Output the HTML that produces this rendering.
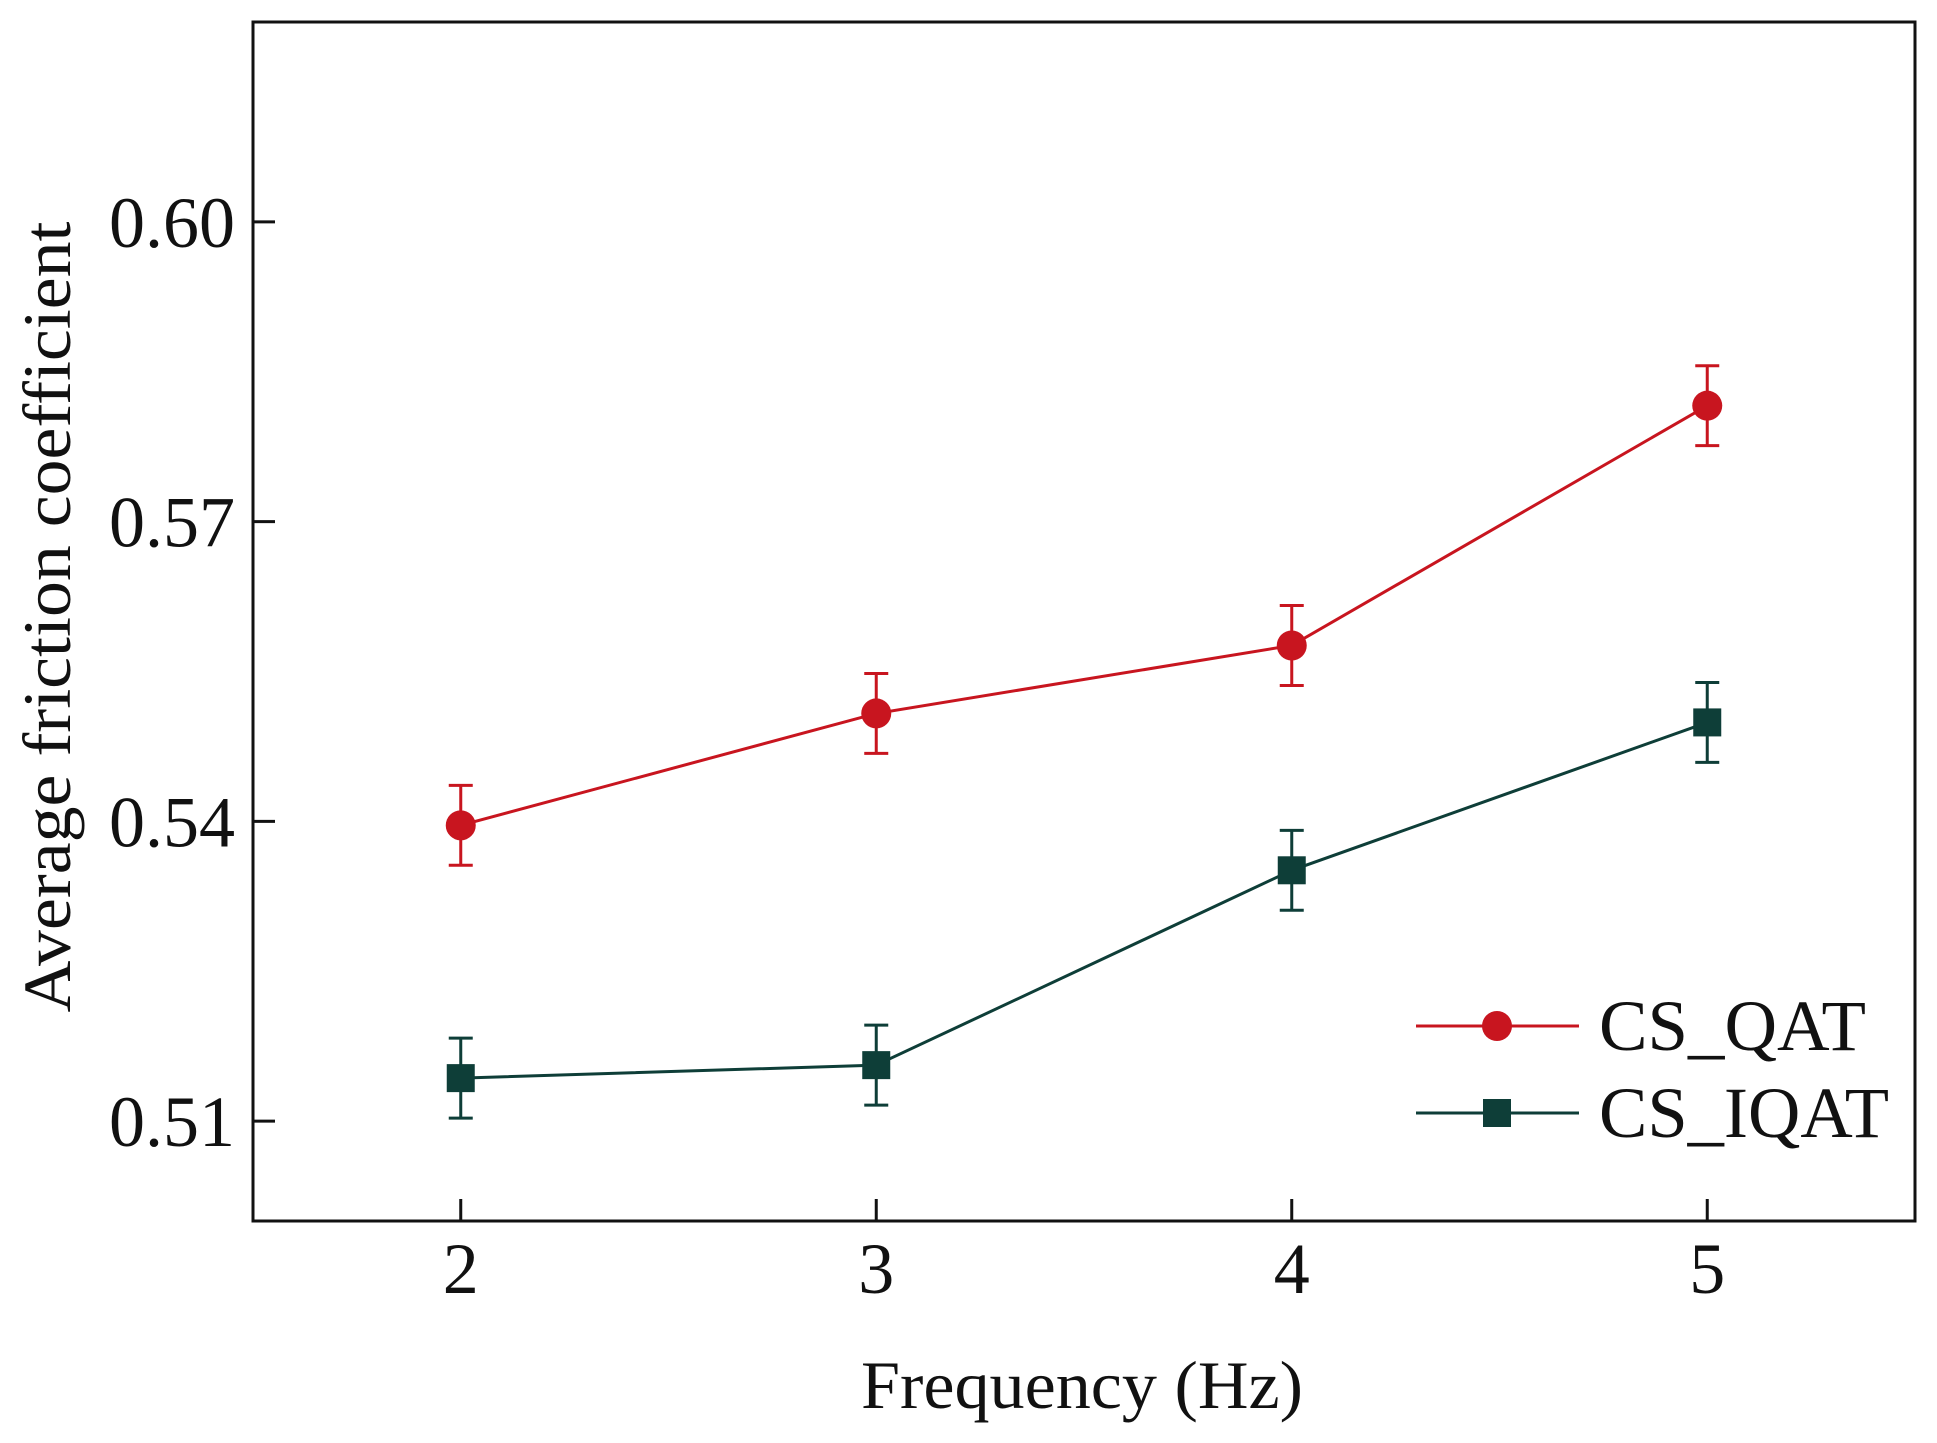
<!DOCTYPE html>
<html><head><meta charset="utf-8"><style>
html,body{margin:0;padding:0;background:#fff;}
svg{display:block;font-family:"Liberation Serif",serif;}
</style></head><body>
<svg id="chart" width="1937" height="1443" viewBox="0 0 1937 1443" xmlns="http://www.w3.org/2000/svg">
<rect x="0" y="0" width="1937" height="1443" fill="#fff"/>
<g id="plot"></g>
<text x="0" y="0" transform="translate(70,617) rotate(-90)" text-anchor="middle" font-size="68" textLength="791" lengthAdjust="spacingAndGlyphs" fill="#111">Average friction coefficient</text>
<text x="1082" y="1408" text-anchor="middle" font-size="68" textLength="442" lengthAdjust="spacingAndGlyphs" fill="#111">Frequency (Hz)</text>
<g>
  <g>
    <line x1="1416" y1="1026" x2="1579" y2="1026" stroke="#c8151f" stroke-width="3"/>
    <circle cx="1497" cy="1026" r="15" fill="#c8151f"/>
    <text x="1599" y="1050" font-size="72" textLength="267" lengthAdjust="spacingAndGlyphs" fill="#111">CS_QAT</text>
  </g>
  <g>
    <line x1="1416" y1="1113" x2="1579" y2="1113" stroke="#0e3e38" stroke-width="3"/>
    <rect x="1483" y="1099" width="28" height="28" fill="#0e3e38"/>
    <text x="1599" y="1137" font-size="72" textLength="290" lengthAdjust="spacingAndGlyphs" fill="#111">CS_IQAT</text>
  </g>
</g>
</svg>
<script>
const categories = [2, 3, 4, 5];
const qatValues = [0.5396, 0.5508, 0.5576, 0.5816];
const qatErrors = [0.004, 0.004, 0.004, 0.004];
const iqatValues = [0.5143, 0.5156, 0.5351, 0.5499];
const iqatErrors = [0.004, 0.004, 0.004, 0.004];
const yTicks = [0.51, 0.54, 0.57, 0.60];
const yTickLabels = ["0.51", "0.54", "0.57", "0.60"];
const xTickLabels = ["2", "3", "4", "5"];

const L = 253, R = 1915, T = 22, B = 1221;
const xMin = 1.5, xMax = 5.5, yMin = 0.5, yMax = 0.62;
function xs(v){ return L + (v - xMin) / (xMax - xMin) * (R - L); }
function ys(v){ return B - (v - yMin) / (yMax - yMin) * (B - T); }

const NS = "http://www.w3.org/2000/svg";
const g = document.getElementById('plot');
function mk(tag, attrs, parent){
  const e = document.createElementNS(NS, tag);
  for (const k in attrs) e.setAttribute(k, attrs[k]);
  (parent || g).appendChild(e);
  return e;
}

const frame = mk('rect', {x:L, y:T, width:R-L, height:B-T, fill:'none', stroke:'#111', 'stroke-width':3});



yTicks.forEach((v, i) => {
  const t = mk('line', {x1:L, x2:L+22, y1:ys(v), y2:ys(v), stroke:'#111', 'stroke-width':3});
  
  
  const lb = mk('text', {x:L-18, y:ys(v)+25, 'text-anchor':'end', 'font-size':72, fill:'#111'});
  lb.textContent = yTickLabels[i];
  
  
});
categories.forEach((c, i) => {
  const t = mk('line', {x1:xs(c), x2:xs(c), y1:B, y2:B-22, stroke:'#111', 'stroke-width':3});
  
  
  const lb = mk('text', {x:xs(c), y:B+72, 'text-anchor':'middle', 'font-size':72, fill:'#111'});
  lb.textContent = xTickLabels[i];
  
  
});

function series(vals, errs, color, shape, name){
  const sg = mk('g', {});
  
  
  const pts = categories.map((c, i) => xs(c) + ',' + ys(vals[i])).join(' ');
  const pl = mk('polyline', {points:pts, fill:'none', stroke:color, 'stroke-width':3}, sg);
  
  
  categories.forEach((c, i) => {
    const x = xs(c), y1 = ys(vals[i] + errs[i]), y2 = ys(vals[i] - errs[i]);
    const eb = mk('path', {d:`M${x},${y1}V${y2}M${x-12},${y1}H${x+12}M${x-12},${y2}H${x+12}`, stroke:color, 'stroke-width':3, fill:'none'}, sg);
    
    
    let m;
    if (shape === 'circle') m = mk('circle', {cx:x, cy:ys(vals[i]), r:15, fill:color}, sg);
    else m = mk('rect', {x:x-14, y:ys(vals[i])-14, width:28, height:28, fill:color}, sg);
    
    
  });
}
series(qatValues, qatErrors, '#c8151f', 'circle', 'cs-qat');
series(iqatValues, iqatErrors, '#0e3e38', 'square', 'cs-iqat');
</script>
</body></html>
